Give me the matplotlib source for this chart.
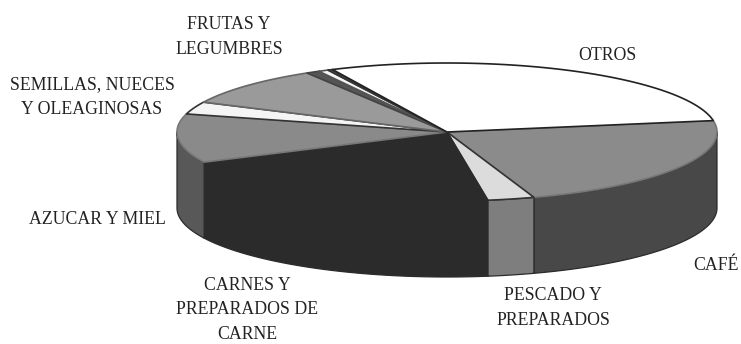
import numpy as np
import matplotlib
matplotlib.use("Agg")
import matplotlib.pyplot as plt

plt.rcParams['font.family'] = ['Liberation Serif', 'DejaVu Serif']

# slices clockwise from the otros/cafe border (%)
categories = ["CAFÉ", "PESCADO", "CARNES", "AZUCAR", "SEMILLAS", "GRIS", "OSCURO", "BLANCO", "OSCURO2", "OTROS"]
values = [22.4, 2.8, 20.2, 11.4, 2.9, 9.2, 0.8, 0.6, 0.3, 29.3]
top_colors = ["#8b8b8b", "#dcdcdc", "#2b2b2b", "#8a8a8a", "#f4f4f4", "#9a9a9a", "#555555", "#f4f4f4", "#444444", "#ffffff"]
edge_colors = ["#777777", "#333333", "#2b2b2b", "#777777", "#333333", "#666666", "#444444", "#555555", "#333333", "#222222"]
side_colors = ["#484848", "#7e7e7e", "#2b2b2b", "#585858", "#585858", "#585858", "#585858", "#585858", "#585858", "#585858"]

label_text = ["FRUTAS Y\nLEGUMBRES", "OTROS", "SEMILLAS, NUECES\nY OLEAGINOSAS", "AZUCAR Y MIEL", "CAFÉ",
              "PESCADO Y\nPREPARADOS", "CARNES Y\nPREPARADOS DE\nCARNE"]
label_x = [229, 607, 92, 97, 716, 553, 247]
label_y = [37, 56, 97, 220, 266, 308, 310]

start_angle = 9.5
cx, cy = 447, 132
rx, ry = 270, 69
depth = 76

fig = plt.figure(figsize=(7.41, 3.44), dpi=100)
ax = fig.add_axes([0, 0, 1, 1])
ax.set_xlim(0, 741)
ax.set_ylim(344, 0)
ax.axis("off")

sweep = np.array(values) / sum(values) * 360
ends = start_angle - np.cumsum(sweep)
starts = ends + sweep


def arc(a, b):
    t = np.radians(np.linspace(a, b, 80))
    return cx + rx * np.cos(t), cy - ry * np.sin(t)


# side wall, only the front half of the ellipse shows
for a, b, c in zip(starts, ends, side_colors):
    lo = max(b, -180)
    hi = min(a, 0)
    if hi <= lo:
        continue
    x, y = arc(hi, lo)
    ax.fill(np.r_[x, x[::-1]], np.r_[y, y[::-1] + depth], fc=c, ec="#2b2b2b", lw=0.9, zorder=2)

# top faces, the otros slice goes last so its dark rim stays on top
for a, b, c, e in zip(starts, ends, top_colors, edge_colors):
    x, y = arc(a, b)
    ax.fill(np.r_[cx, x], np.r_[cy, y], fc=c, ec=e, lw=1.2, joinstyle="round", zorder=3)

for s, x, y in zip(label_text, label_x, label_y):
    ax.text(x, y, s, ha="center", va="center", fontsize=12.8, color="#222222", linespacing=1.6, zorder=5)

fig.savefig("out.png", dpi=100, facecolor="white")
